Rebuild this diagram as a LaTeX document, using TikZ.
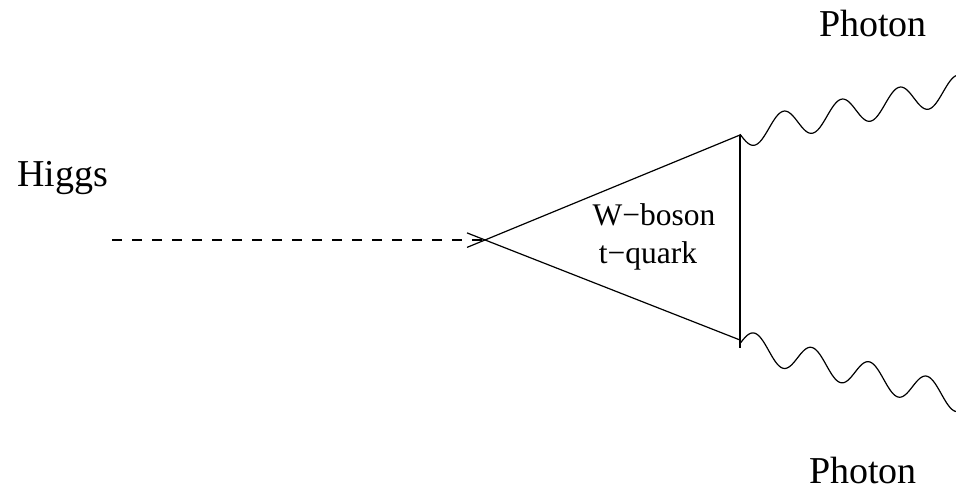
\documentclass[tikz,border=0pt]{standalone}
\usepackage{fontspec}
\setmainfont{Liberation Serif}
\begin{document}
\begin{tikzpicture}[x=1pt,y=-1pt,
  line/.style={line width=1.2pt,line join=miter},
  dashline/.style={line width=1.2pt,dash pattern=on 10pt off 10pt},
  biglabel/.style={inner sep=0pt,anchor=base,font=\fontsize{38}{44}\selectfont},
  smalllabel/.style={inner sep=0pt,anchor=base,font=\fontsize{31.5}{36}\selectfont}]
\useasboundingbox (0,0) rectangle (956,489);
% coordinates
\coordinate (H0) at (112,240);
\coordinate (V) at (485,240);
\coordinate (T) at (740,135);
\coordinate (B) at (740,340);
\coordinate (Bext) at (740,348);
\coordinate (Tl) at (467,247.4);
\coordinate (Bl) at (467,232.9);
% Higgs dashed line
\draw[dashline] (H0) -- (V);
% triangle edges (crossing at the vertex)
\draw[line] (Tl) -- (T);
\draw[line] (Bl) -- (B);
\draw[line] (T) -- (Bext);
% photons
\draw[line,line join=round] plot[domain=0:216,samples=240,smooth]
  ({740+\x},{134.2-0.207*\x+14*sin(6.2069*\x)});
\draw[line,line join=round] plot[domain=0:216,samples=240,smooth]
  ({740+\x},{343.5+0.25*\x-14*sin(6.2609*\x)});
% labels
\node[biglabel,anchor=base west] (higgs) at (17,187) {Higgs};
\node[biglabel] (ph1) at (873,37) {Photon};
\node[biglabel] (ph2) at (863,483) {Photon};
\node[smalllabel] (wb) at (654,226) {W−boson};
\node[smalllabel] (tq) at (648,263) {t−quark};
\end{tikzpicture}
\end{document}
